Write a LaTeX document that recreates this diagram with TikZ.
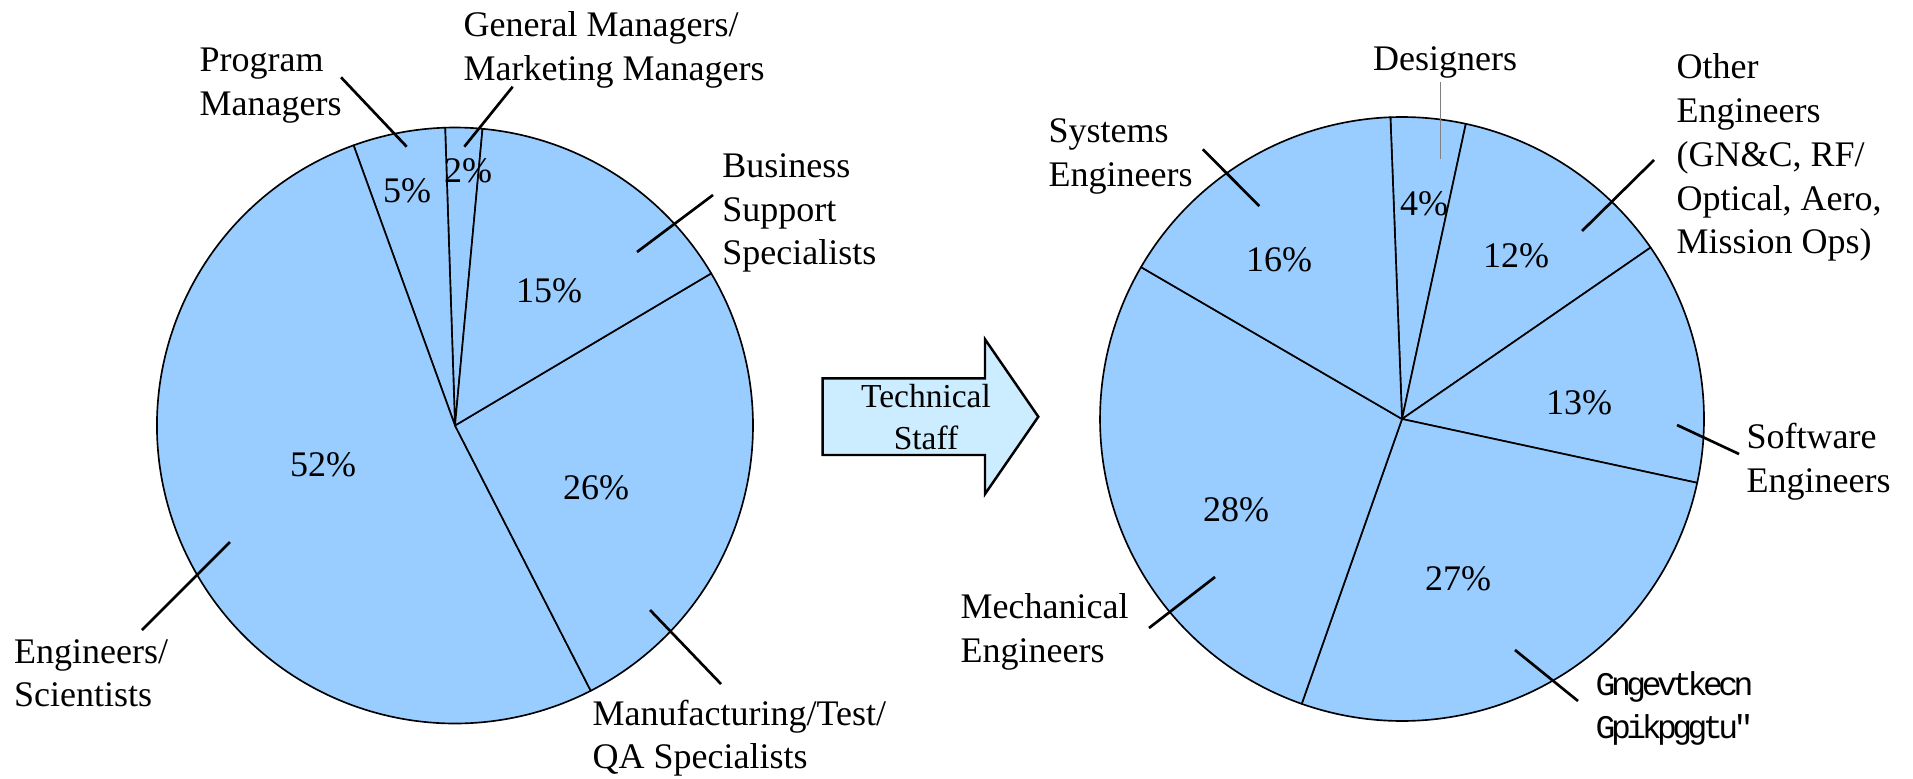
\documentclass[tikz,border=0pt]{standalone}
\usepackage{fontspec}
\setmainfont{Liberation Serif}
\newfontfamily\garbfont[LetterSpace=-13.6]{Liberation Mono}
\usepackage{xcolor}
\definecolor{pieblue}{RGB}{153,204,255}
\definecolor{arrowblue}{RGB}{204,236,255}

\begin{document}
\begin{tikzpicture}[x=0.1mm, y=0.1mm,
    slice/.style={draw, fill=pieblue, line width=0.47pt, line join=round},
    leader/.style={line width=0.76pt},
    lbl/.style={anchor=north west, inner sep=0, align=left, font=\fontsize{10.24}{12.46}\selectfont},
    pct/.style={inner sep=0, font=\fontsize{10.24}{12.46}\selectfont}]
\useasboundingbox (0,0) rectangle (1913,778);
\coordinate (lc) at (455,352.5);
\coordinate (rc) at (1402,359);

\filldraw[slice] (lc) -- ++(84.7:298) arc[start angle=84.7, end angle=91.9, radius=298] -- cycle;
\filldraw[slice] (lc) -- ++(91.9:298) arc[start angle=91.9, end angle=109.9, radius=298] -- cycle;
\filldraw[slice] (lc) -- ++(109.9:298) arc[start angle=109.9, end angle=297.1, radius=298] -- cycle;
\filldraw[slice] (lc) -- ++(297.1:298) arc[start angle=297.1, end angle=390.7, radius=298] -- cycle;
\filldraw[slice] (lc) -- ++(30.7:298) arc[start angle=30.7, end angle=84.7, radius=298] -- cycle;

\filldraw[slice] (rc) -- ++(77.8:302) arc[start angle=77.8, end angle=92.2, radius=302] -- cycle;
\filldraw[slice] (rc) -- ++(34.6:302) arc[start angle=34.6, end angle=77.8, radius=302] -- cycle;
\filldraw[slice] (rc) -- ++(-12.2:302) arc[start angle=-12.2, end angle=34.6, radius=302] -- cycle;
\filldraw[slice] (rc) -- ++(-109.4:302) arc[start angle=-109.4, end angle=-12.2, radius=302] -- cycle;
\filldraw[slice] (rc) -- ++(-210.2:302) arc[start angle=-210.2, end angle=-109.4, radius=302] -- cycle;
\filldraw[slice] (rc) -- ++(-267.8:302) arc[start angle=-267.8, end angle=-210.2, radius=302] -- cycle;

\node[pct] (p2) at (468,607) {2\%};
\node[pct] (p5) at (407,587) {5\%};
\node[pct] (p15) at (549,487) {15\%};
\node[pct] (p52) at (323,313) {52\%};
\node[pct] (p26) at (596,290) {26\%};

\node[pct] (p4) at (1424,574.5) {4\%};
\node[pct] (p12) at (1516,522) {12\%};
\node[pct] (p16) at (1279,518) {16\%};
\node[pct] (p13) at (1579,375) {13\%};
\node[pct] (p28) at (1236,268) {28\%};
\node[pct] (p27) at (1458,199) {27\%};

\node[lbl] (prog) at (199,731) {Program\\Managers};
\node[lbl] (genm) at (463,767) {General Managers/\\Marketing Managers};
\node[lbl] (bus) at (721.7,625.3) {Business\\Support\\Specialists};
\node[lbl] (engsci) at (13.5,139.5) {Engineers/\\Scientists};
\node[lbl] (manu) at (592,79) {Manufacturing/Test/\\QA Specialists};

\node[lbl] (des) at (1372.5,732.5) {Designers};
\node[lbl] (sys) at (1048,660) {Systems\\Engineers};
\node[lbl] (other) at (1676,725) {Other\\Engineers\\(GN\&C, RF/\\Optical, Aero,\\Mission Ops)};
\node[lbl] (soft) at (1746,355.3) {Software\\Engineers};
\node[lbl] (mech) at (960,185) {Mechanical\\Engineers};
\node[lbl, font=\garbfont\fontsize{9.4}{12.2}\selectfont] (elec) at (1595,107) {Gngevtkecn\\Gpikpggtu"};

\coordinate (prog-a) at (341,700.7);
\coordinate (prog-b) at (406.7,631.3);
\coordinate (genm-a) at (512.7,691.3);
\coordinate (genm-b) at (464.3,631.3);
\coordinate (bus-a) at (713,583);
\coordinate (bus-b) at (637,526);
\coordinate (engsci-a) at (230,236);
\coordinate (engsci-b) at (142,148);
\coordinate (manu-a) at (650,168);
\coordinate (manu-b) at (721,94);
\coordinate (des-a) at (1440,696);
\coordinate (des-b) at (1440,619);
\coordinate (sys-a) at (1202.7,628.7);
\coordinate (sys-b) at (1259.3,572);
\coordinate (other-a) at (1654,618);
\coordinate (other-b) at (1582,547);
\coordinate (soft-a) at (1739,324);
\coordinate (soft-b) at (1677,353);
\coordinate (mech-a) at (1149,150);
\coordinate (mech-b) at (1215,201);
\coordinate (elec-a) at (1578,77);
\coordinate (elec-b) at (1515,128);

\draw[leader] (prog-a) -- (prog-b);
\draw[leader] (genm-a) -- (genm-b);
\draw[leader] (bus-a) -- (bus-b);
\draw[leader] (engsci-a) -- (engsci-b);
\draw[leader] (manu-a) -- (manu-b);
\draw[leader, line width=0.3pt, gray] (des-a) -- (des-b);
\draw[leader] (sys-a) -- (sys-b);
\draw[leader] (other-a) -- (other-b);
\draw[leader] (soft-a) -- (soft-b);
\draw[leader] (mech-a) -- (mech-b);
\draw[leader] (elec-a) -- (elec-b);

\filldraw[fill=arrowblue, line width=0.7pt] (822.7,399.7) -- (985,399.7) -- (985,438.7) -- (1038.3,361.3) -- (985,284) -- (985,323) -- (822.7,323) -- cycle;
\node[anchor=north, align=center, inner sep=0, font=\fontsize{9.53}{11.7}\selectfont] (staff) at (926,394) {Technical\\Staff};
\end{tikzpicture}
\end{document}
